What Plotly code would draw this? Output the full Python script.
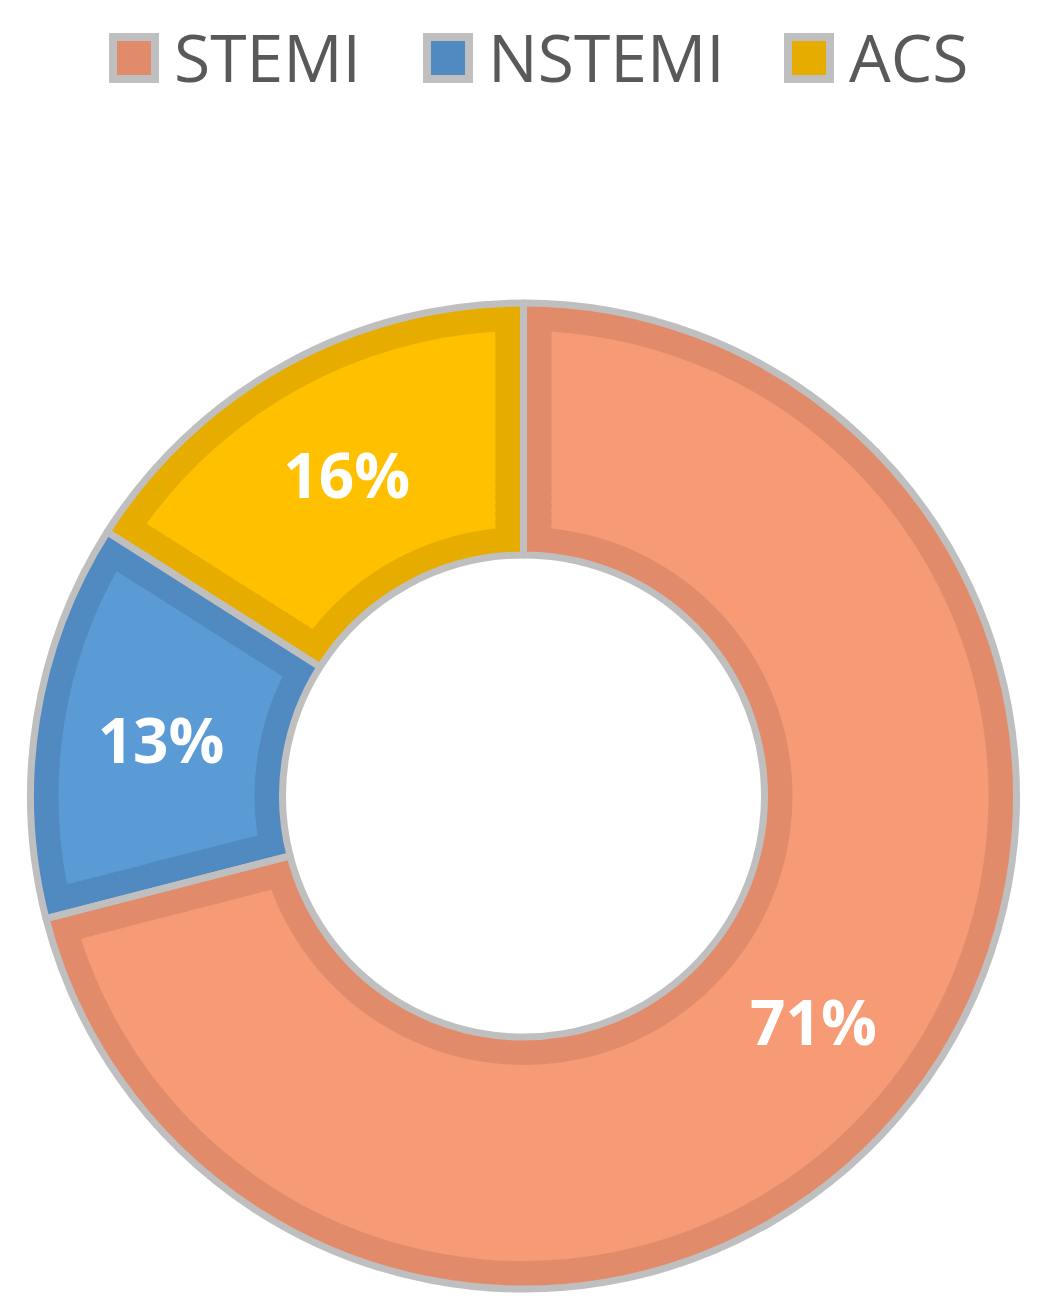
import math
import plotly.graph_objects as go

# ---- data ----
categories = ["STEMI", "NSTEMI", "ACS"]
values = [71, 13, 16]
light_colors = ["#F69B76", "#5B9BD5", "#FFC000"]
dark_colors = ["#E28B6B", "#5189C1", "#E6AD00"]
outline_color = "#BFBFBF"

# ---- geometry (pixels, figure coordinates; page body adds an 8px offset) ----
OFF = 8
W, H = 1042 - 2 * OFF, 1315 - 2 * OFF
CX, CY = 523.5 - OFF, 796.0 - OFF
R_OUT = 493.0
R_IN = 241.0
BAND = 28.0
LINE_W = 7


def dom(r):
    return dict(x=[(CX - r) / W, (CX + r) / W],
                y=[(H - CY - r) / H, (H - CY + r) / H])


total = sum(values)
fig = go.Figure()

# base (dark band colour) donut
fig.add_trace(go.Pie(
    labels=categories, values=values, sort=False, direction="clockwise",
    rotation=0, hole=R_IN / R_OUT, domain=dom(R_OUT),
    marker=dict(colors=dark_colors, line=dict(width=0)),
    textinfo="none", hoverinfo="skip", showlegend=False,
))

# inset lighter fill built from concentric rings
r_lo = R_OUT - BAND
r_li = R_IN + BAND
N = 24
step = (r_lo - r_li) / N
for k in range(N):
    ro = r_lo - k * step
    ri = ro - step
    rm = (ro + ri) / 2
    pad = math.asin(BAND / rm) / (2 * math.pi) * total
    vals, cols = [], []
    for v, lc, dc in zip(values, light_colors, dark_colors):
        vals += [pad, v - 2 * pad, pad]
        cols += [dc, lc, dc]
    hole = (ri - 2) / ro if k < N - 1 else r_li / ro
    fig.add_trace(go.Pie(
        values=vals, sort=False, direction="clockwise", rotation=0,
        hole=hole, domain=dom(ro),
        marker=dict(colors=cols, line=dict(width=0)),
        textinfo="none", hoverinfo="skip", showlegend=False,
    ))

# outline + labels
fig.add_trace(go.Pie(
    labels=categories, values=values, sort=False, direction="clockwise",
    rotation=0, hole=R_IN / R_OUT, domain=dom(R_OUT),
    marker=dict(colors=["rgba(0,0,0,0)"] * 3,
                line=dict(color=outline_color, width=LINE_W)),
    textinfo="percent", textposition="inside",
    insidetextorientation="horizontal",
    texttemplate="%{percent:.0%}",
    insidetextfont=dict(color="white", size=62, family="Open Sans", weight="bold"),
    hoverinfo="skip", showlegend=False,
))

# ---- legend (manual, large squares) ----
leg_sq_x = [109 - OFF, 423 - OFF, 784 - OFF]
leg_txt_x = [172 - OFF, 486 - OFF, 847 - OFF]
leg_y0, leg_y1 = 33 - OFF, 83 - OFF
for i, name in enumerate(categories):
    x0 = leg_sq_x[i]
    fig.add_shape(type="rect", xref="paper", yref="paper",
                  x0=(x0 + 4) / W, x1=(x0 + 50 - 4) / W,
                  y0=1 - (leg_y1 - 4) / H, y1=1 - (leg_y0 + 4) / H,
                  fillcolor=dark_colors[i],
                  line=dict(color=outline_color, width=8))
    fig.add_annotation(x=leg_txt_x[i] / W, y=1 - 48 / H, xref="paper", yref="paper",
                       xanchor="left", yanchor="middle", showarrow=False,
                       text=name,
                       font=dict(size=66, color="#595959", family="Open Sans"))

fig.update_layout(width=W, height=H, margin=dict(l=0, r=0, t=0, b=0),
                  paper_bgcolor="white", plot_bgcolor="white", showlegend=False)

fig.write_html("out.html")
